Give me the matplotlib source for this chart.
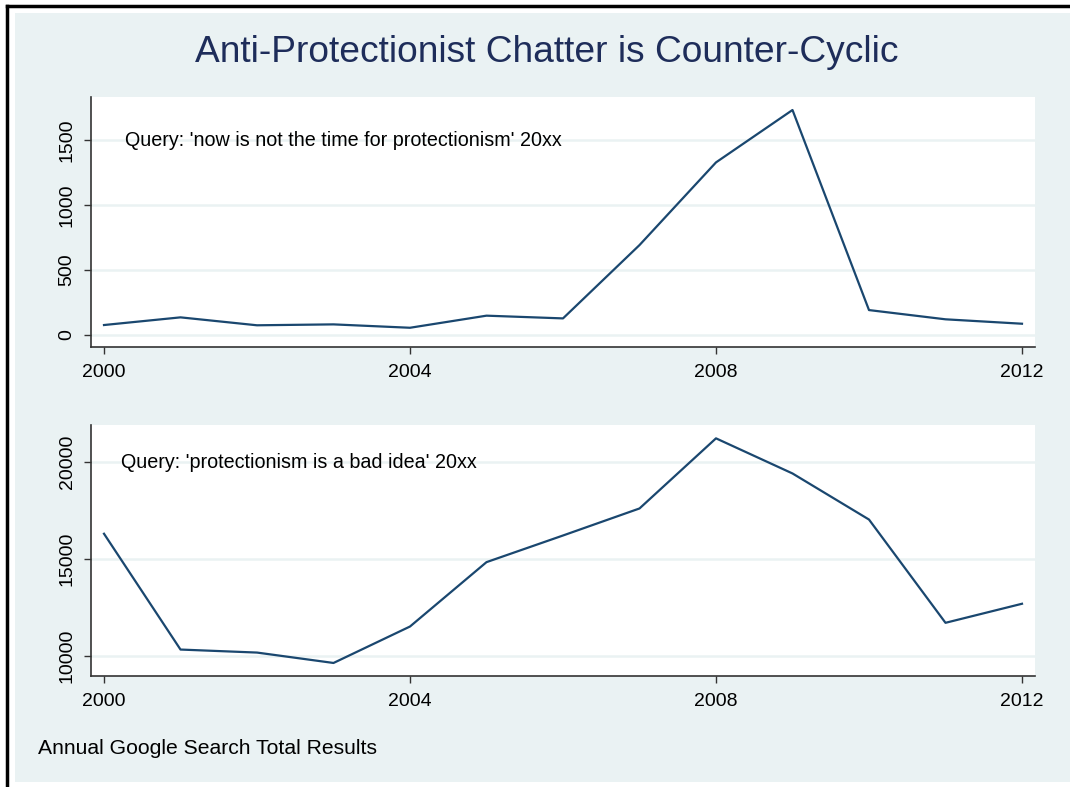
import matplotlib.pyplot as plt
from matplotlib.patches import Rectangle
from matplotlib.lines import Line2D

plt.rcParams['font.family'] = ['Liberation Sans', 'DejaVu Sans']

# Data
years = list(range(2000, 2013))
now_not_time = [77, 136, 75, 82, 56, 149, 128, 692, 1328, 1731, 192, 121, 87]
bad_idea = [16300, 10345, 10190, 9655, 11530, 14840, 16210, 17600, 21206, 19400, 17030, 11720, 12700]

top_ticks = [0, 500, 1000, 1500]
bottom_ticks = [10000, 15000, 20000]
x_ticks = [2000, 2004, 2008, 2012]

bg = '#EAF2F3'
navy = '#1A476F'
W, H = 1070, 787

fig = plt.figure(figsize=(W / 100, H / 100), dpi=100, facecolor='white')

# light blue panel and the black frame lines on top/left
fig.patches.append(Rectangle((15 / W, 1 - 782 / H), (W - 15) / W, (782 - 13) / H,
                             transform=fig.transFigure, facecolor=bg, edgecolor='none', zorder=-10))
fig.lines.append(Line2D([7 / W, 1], [1 - 6 / H, 1 - 6 / H], transform=fig.transFigure,
                        color='black', lw=2.5, zorder=-5))
fig.lines.append(Line2D([7 / W, 7 / W], [0, 1 - 6 / H], transform=fig.transFigure,
                        color='black', lw=2.5, zorder=-5))

fig.text(547 / W, 1 - 52 / H, 'Anti-Protectionist Chatter is Counter-Cyclic',
         ha='center', va='center', fontsize=26.7, color='#1E2D5A')

ax1 = fig.add_axes([91 / W, 1 - 347 / H, 944 / W, 250 / H])
ax2 = fig.add_axes([91 / W, 1 - 676 / H, 944 / W, 251 / H])


def style(ax, yticks, ylim):
    ax.set_facecolor('white')
    ax.set_xlim(1999.83, 2012.17)
    ax.set_ylim(*ylim)
    ax.set_xticks(x_ticks)
    ax.set_yticks(yticks)
    ax.set_yticklabels([str(t) for t in yticks], rotation=90, va='center')
    for s in ['top', 'right']:
        ax.spines[s].set_visible(False)
    for s in ['left', 'bottom']:
        ax.spines[s].set_color('#333333')
        ax.spines[s].set_linewidth(1.2)
    ax.tick_params(axis='both', direction='out', length=5, width=1, color='#333333',
                   labelsize=14, labelcolor='black')
    ax.tick_params(axis='x', pad=7)
    ax.tick_params(axis='y', pad=6)
    ax.grid(axis='y', color=bg, linewidth=1.8)
    ax.set_axisbelow(True)


ax1.plot(years, now_not_time, color=navy, lw=1.6)
style(ax1, top_ticks, (-92, 1831))
ax1.text(125 / W, 1 - 141 / H, "Query: 'now is not the time for protectionism' 20xx",
         transform=fig.transFigure, ha='left', va='center', fontsize=14.2)

ax2.plot(years, bad_idea, color=navy, lw=1.6)
style(ax2, bottom_ticks, (8985, 21892))
ax2.text(121 / W, 1 - 463 / H, "Query: 'protectionism is a bad idea' 20xx",
         transform=fig.transFigure, ha='left', va='center', fontsize=14.2)

fig.text(38 / W, 1 - 748 / H, 'Annual Google Search Total Results',
         ha='left', va='center', fontsize=15.2)

fig.savefig('out.png', dpi=100, facecolor='white')
